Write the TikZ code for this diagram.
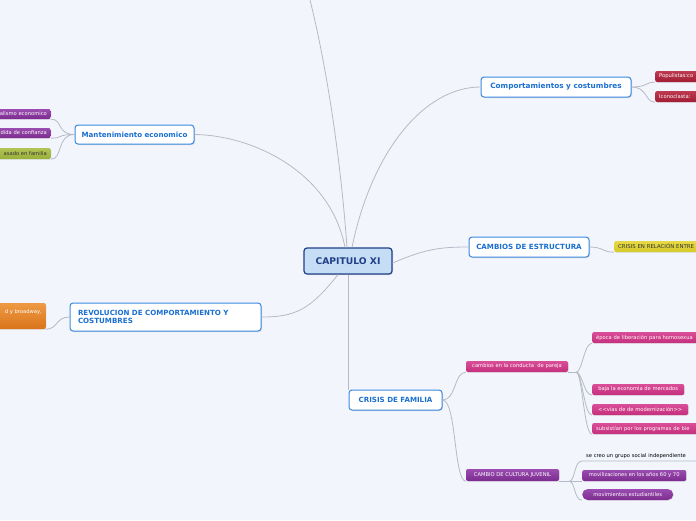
\documentclass[tikz,border=0pt]{standalone}
\usepackage{fontspec}
\setmainfont{DejaVu Sans}
\usetikzlibrary{shadows}
\definecolor{bg}{HTML}{F2F5FC}
\definecolor{conn}{HTML}{B6BAC6}
\definecolor{bblue}{HTML}{3C8AE0}
\definecolor{btext}{HTML}{1A6FD0}
\definecolor{cfill}{HTML}{C6DEF5}
\definecolor{cdark}{HTML}{203F88}
\definecolor{purp}{HTML}{7B2C8E}
\definecolor{purpl}{HTML}{9B4CB0}
\definecolor{pink}{HTML}{C42F7C}
\definecolor{pinkl}{HTML}{DA4E98}
\definecolor{redl}{HTML}{BE3A50}
\definecolor{redd}{HTML}{A01D35}
\definecolor{olive}{HTML}{9AAE3A}
\definecolor{olivel}{HTML}{B2C454}
\definecolor{orang}{HTML}{D9741A}
\definecolor{orangl}{HTML}{EE9A45}
\definecolor{yel}{HTML}{D6C92A}
\definecolor{yell}{HTML}{E6DA46}
\definecolor{dtext}{HTML}{333333}
\tikzset{
  conn/.style={draw=conn, line width=0.8pt},
  central/.style={draw=cdark, fill=cfill, line width=1.2pt, rounded corners=3pt,
    text=cdark, font=\fontsize{9.2}{10}\selectfont\bfseries, inner sep=0pt,
    drop shadow={opacity=0.25, shadow xshift=1pt, shadow yshift=-1pt}},
  branch/.style={draw=bblue, fill=white, line width=1pt, rounded corners=3pt,
    text=btext, font=\fontsize{7.1}{8}\selectfont\bfseries, inner sep=0pt,
    drop shadow={opacity=0.25, shadow xshift=1pt, shadow yshift=-1pt}},
  leaf/.style={rounded corners=2pt, inner xsep=4pt, inner ysep=0pt, text=white,
    font=\fontsize{5.2}{6.5}\selectfont, minimum height=11pt,
    drop shadow={opacity=0.2, shadow xshift=0.6pt, shadow yshift=-0.6pt}},
  lpurp/.style={leaf, top color=purpl, bottom color=purp},
  lpink/.style={leaf, top color=pinkl, bottom color=pink},
  lred/.style={leaf, top color=redl, bottom color=redd},
  lolive/.style={leaf, top color=olivel, bottom color=olive, text=dtext},
  lorange/.style={leaf, top color=orangl, bottom color=orang},
  lyel/.style={leaf, top color=yell, bottom color=yel, text=dtext},
  cutl/.style={text width=60pt, align=right, anchor=east},
  cutr/.style={text width=70pt, align=left, anchor=west},
}
\begin{document}
\begin{tikzpicture}[x=1pt,y=-1pt]
\fill[bg] (0,0) rectangle (696,520);
\useasboundingbox (0,0) rectangle (696,520);
\clip (0,0) rectangle (696,520);

% main nodes
\node[central, minimum width=88pt, minimum height=26pt] (c) at (348,261) {CAPITULO XI};
\node[branch, minimum width=150pt, minimum height=20pt, font=\fontsize{7.3}{8}\selectfont\bfseries] (comp) at (556,87) {Comportamientos y costumbres};
\node[branch, minimum width=119pt, minimum height=19pt] (mant) at (134.5,134.5) {Mantenimiento economico};
\node[branch, minimum width=120pt, minimum height=20pt] (camb) at (529,247) {CAMBIOS DE ESTRUCTURA};
\node[branch, minimum width=191pt, minimum height=28pt, text width=175pt, align=left,
  font=\fontsize{7.1}{8.5}\selectfont\bfseries] (revo) at (165.5,317) {REVOLUCION DE COMPORTAMIENTO Y\\COSTUMBRES};
\node[branch, minimum width=93pt, minimum height=20pt] (cris) at (395.5,400) {CRISIS DE FAMILIA};

% left leaves
\node[lpurp, cutl, minimum height=10pt] (l1) at (51,114) {alismo economico};
\node[lpurp, cutl, minimum height=10pt] (l2) at (51,133) {dida de confianza};
\node[lolive, cutl, minimum height=11pt] (l3) at (51,153.5) {asado en familia};
\node[lorange, cutl, minimum height=26pt, font=\fontsize{5.2}{8}\selectfont] (or) at (46,316) {d y broadway,\\\mbox{}};

% right leaves
\node[lred, cutr] (r1) at (655,76.5) {Populistas:co};
\node[lred, cutr] (r2) at (655,96.5) {Iconoclasta: };
\node[lyel, cutr, text width=90pt, font=\fontsize{5.4}{6}\selectfont] (y1) at (614,246.5) {CRISIS EN RELACIÓN ENTRE};

\node[lpink, minimum width=102pt] (pj) at (517,366.5) {cambios en la conducta\ \ de pareja};
\node[lpink, cutr, text width=110pt] (p1) at (592,337.5) {época de liberación para homosexua};
\node[lpink, anchor=west, minimum width=92pt] (p2) at (592,389.5) {baja la economia de mercados};
\node[lpink, anchor=west, minimum width=96pt] (p3) at (592,409.5) {<\kern0pt<vias de de modernización>\kern0pt>};
\node[lpink, cutr, text width=110pt] (p4) at (592,428.5) {subsistían por los programas de bie};

\node[lpurp, minimum width=93pt, minimum height=12pt] (cj) at (512.5,475) {CAMBIO DE CULTURA JUVENIL};
\node[lpurp, anchor=west, minimum width=104pt] (j2) at (582,475.5) {movilizaciones en los años 60 y 70};
\node[lpurp, anchor=west, minimum width=91pt, rounded corners=5.5pt] (j3) at (582,494.5) {movimientos estudiantiles};
\node[text=black, font=\fontsize{5.2}{6}\selectfont, anchor=south west, inner xsep=4pt, inner ysep=2pt] (j1) at (582,461) {se creo un grupo social independiente};
\coordinate (j1end) at (696,461);

% connectors from central
\coordinate (top) at (310,0);
\draw[conn] ([xshift=-1pt]c.north) .. controls (340,150) and (325,60) .. (top);
\draw[conn] ([xshift=4pt]c.north) .. controls (372,150) and (425,87) .. (comp.west);
\draw[conn] ([xshift=-3pt]c.north) .. controls (330,170) and (250,135) .. (mant.east);
\draw[conn] ([yshift=-2pt]c.east) .. controls (425,249) and (440,247) .. (camb.west);
\draw[conn] ([xshift=-10pt]c.south) .. controls (310,310) and (295,317) .. (revo.east);
\draw[conn] (c.south) -- (cris.north -| c.south);

% second level
\draw[conn] (mant.west) .. controls +(-18,0) and +(12,0) .. (l1.south east);
\draw[conn] (mant.west) .. controls +(-18,0) and +(12,0) .. (l2.south east);
\draw[conn] (mant.west) .. controls +(-18,0) and +(12,0) .. (l3.south east);
\draw[conn] (revo.west) .. controls +(-14,0) and +(12,0) .. (or.south east);
\draw[conn] (comp.east) .. controls +(16,0) and +(-10,0) .. (r1.south west);
\draw[conn] (comp.east) .. controls +(16,0) and +(-10,0) .. (r2.south west);
\draw[conn] (camb.east) .. controls +(14,0) and +(-12,0) .. (y1.south west);
\draw[conn] (cris.east) .. controls +(14,0) and +(-12,0) .. (pj.south west);
\draw[conn] (cris.east) .. controls +(14,0) and +(-12,0) .. (cj.south west);

% third level
\coordinate (pjx) at ([xshift=8pt]pj.south east);
\draw[conn] (pj.south east) -- (pjx);
\foreach \n in {p1,p2,p3,p4}{
  \draw[conn] (pjx) .. controls +(6,0) and +(-8,0) .. (\n.south west);
}
\coordinate (cjx) at ([xshift=10pt]cj.south east);
\draw[conn] (cj.south east) -- (cjx);
\draw[conn] (cjx) .. controls +(6,0) and +(-8,0) .. (j1.south west) -- (j1end);
\draw[conn] (cjx) .. controls +(6,0) and +(-8,0) .. (j2.south west);
\draw[conn] (cjx) .. controls +(6,0) and +(-8,0) .. (j3.south west);
\end{tikzpicture}
\end{document}
